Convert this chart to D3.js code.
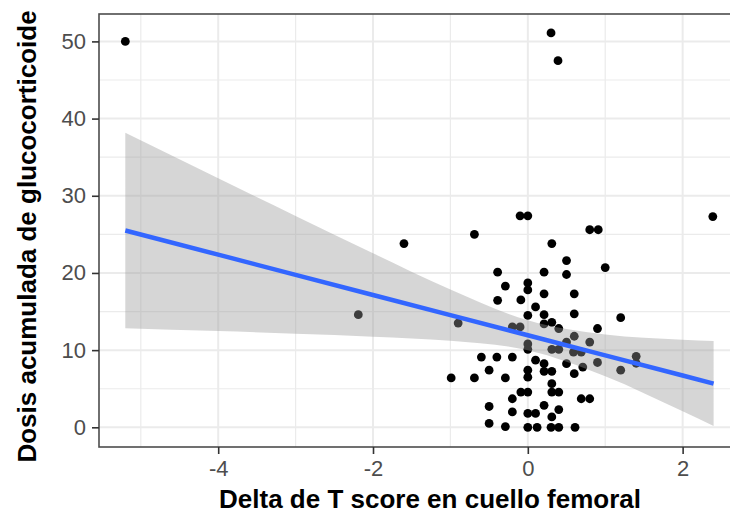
<!DOCTYPE html>
<html>
<head>
<meta charset="utf-8">
<script src="https://cdn.jsdelivr.net/npm/d3@7"></script>
<style>
  body { margin: 0; background: #fff; }
  svg { display: block; }
</style>
</head>
<body>
<svg width="730" height="516"></svg>
<script>
// Data
const deltaT = [-5.2, 0.3, 0.39, 2.39, -1.6, -2.19,
  -0.1, 0.0, -0.69, 0.8, 0.91, 0.31, 0.5, 1.0, -0.39, 0.21, 0.5, 0.0, -0.29, 0.0,
  0.6, 0.21, -0.39, -0.09, 0.1, 1.2, 0.0, 0.21, 0.6, -0.9, 0.21, 0.31, -0.2, -0.1,
  0.4, 0.9, 0.6, 0.0, 0.5, 0.8, 0.31, 0.4, 0.59, 0.69, 1.4, 1.4, -0.6, -0.4, -0.2,
  0.0, 0.1, 0.21, 0.5, 0.9, 0.71, -0.5, 0.0, 0.21, 0.31, 0.6, 1.2, -0.99, -0.69,
  -0.29, 0.0, 0.31, -0.09, 0.0, 0.31, 0.4, -0.2, 0.69, 0.8, -0.5, 0.21, 0.4, -0.2,
  0.0, 0.1, 0.31, -0.5, -0.29, 0.0, 0.12, 0.3, 0.4, 0.61];
const dosis = [50, 51.1, 47.5, 27.3, 23.8, 14.6,
  27.4, 27.4, 25.0, 25.6, 25.6, 23.8, 21.6, 20.7, 20.1, 20.1, 19.8, 18.7, 18.3, 17.8,
  17.3, 17.3, 16.45, 16.5, 15.6, 14.2, 14.5, 14.6, 14.7, 13.5, 13.4, 13.6, 13.0, 13.0,
  12.8, 12.8, 11.8, 10.8, 11.05, 11.05, 10.1, 10.1, 9.75, 9.75, 9.2, 8.3, 9.1, 9.1, 9.1,
  10.1, 8.7, 8.25, 8.25, 8.4, 7.8, 7.4, 7.4, 7.25, 7.25, 6.95, 7.4, 6.4, 6.4,
  6.4, 6.5, 5.65, 4.57, 4.57, 4.57, 4.57, 3.7, 3.7, 3.7, 2.7, 2.85, 2.3, 2.0,
  1.8, 1.8, 1.35, 0.5, 0.1, 0.0, 0.0, 0.0, 0.0, 0.0];

// linear fit and its confidence band
const fitX = [-5.2, -4, -3, -2, -1, 0, 1, 2, 2.4];
const fitY = [25.5, 22.37, 19.76, 17.15, 14.54, 11.93, 9.32, 6.71, 5.67];
const fitLo = [12.85, 12.47, 12.13, 11.75, 11.22, 10.0, 6.63, 2.07, 0.17];
const fitHi = [38.15, 32.27, 27.39, 22.55, 17.86, 13.86, 12.01, 11.35, 11.17];

const xMajor = [-4, -2, 0, 2];
const xMinor = [-5, -3, -1, 1];
const yMajor = [0, 10, 20, 30, 40, 50];
const yMinor = [5, 15, 25, 35, 45];

const xTitle = "Delta de T score en cuello femoral";
const yTitle = "Dosis acumulada de glucocorticoide";

const FONT = "Liberation Sans, Arial, Helvetica, sans-serif";
const GRID = "#EBEBEB";

var svg = d3.select("svg");

var x = d3.scaleLinear().domain([-5.54, 2.78]).range([99, 743]);
var y = d3.scaleLinear().domain([-2.55, 53.55]).range([447, 14]);

var panel = svg.append("g").attr("id", "panel");

// grid
panel.selectAll(".xminor").data(xMinor).enter().append("line")
  .attr("x1", d => x(d)).attr("x2", d => x(d))
  .attr("y1", y.range()[0]).attr("y2", y.range()[1])
  .attr("stroke", GRID).attr("stroke-width", 1.2);
panel.selectAll(".yminor").data(yMinor).enter().append("line")
  .attr("y1", d => y(d)).attr("y2", d => y(d))
  .attr("x1", x.range()[0]).attr("x2", x.range()[1])
  .attr("stroke", GRID).attr("stroke-width", 1.2);
panel.selectAll(".xmajor").data(xMajor).enter().append("line")
  .attr("x1", d => x(d)).attr("x2", d => x(d))
  .attr("y1", y.range()[0]).attr("y2", y.range()[1])
  .attr("stroke", GRID).attr("stroke-width", 2);
panel.selectAll(".ymajor").data(yMajor).enter().append("line")
  .attr("y1", d => y(d)).attr("y2", d => y(d))
  .attr("x1", x.range()[0]).attr("x2", x.range()[1])
  .attr("stroke", GRID).attr("stroke-width", 2);

// points
panel.selectAll("circle").data(deltaT).enter().append("circle")
  .attr("cx", d => x(d))
  .attr("cy", (d, i) => y(dosis[i]))
  .attr("r", 4.4)
  .attr("fill", "#000");

// confidence band
var band = d3.area()
  .x(d => x(fitX[d]))
  .y0(d => y(fitLo[d]))
  .y1(d => y(fitHi[d]))
  .curve(d3.curveMonotoneX);
panel.append("path")
  .datum(d3.range(fitX.length))
  .attr("d", band)
  .attr("fill", "#999999")
  .attr("fill-opacity", 0.4);

// fit line
var line = d3.line()
  .x(d => x(fitX[d]))
  .y(d => y(fitY[d]));
panel.append("path")
  .datum(d3.range(fitX.length))
  .attr("d", line)
  .attr("fill", "none")
  .attr("stroke", "#3366FF")
  .attr("stroke-width", 4.5);

// panel border
panel.append("rect")
  .attr("x", x.range()[0]).attr("y", y.range()[1])
  .attr("width", x.range()[1] - x.range()[0])
  .attr("height", y.range()[0] - y.range()[1])
  .attr("fill", "none")
  .attr("stroke", "#4D4D4D")
  .attr("stroke-width", 1.6);

// axes
var xAxis = svg.append("g")
  .attr("transform", `translate(0,${y.range()[0]})`)
  .call(d3.axisBottom(x).tickValues(xMajor).tickSize(7).tickPadding(6)
    .tickFormat(d => d < 0 ? "-" + Math.abs(d) : d));
var yAxis = svg.append("g")
  .attr("transform", `translate(${x.range()[0]},0)`)
  .call(d3.axisLeft(y).tickValues(yMajor).tickSize(7).tickPadding(6));

[xAxis, yAxis].forEach(function (g) {
  g.select(".domain").remove();
  g.selectAll(".tick line").attr("stroke", "#333").attr("stroke-width", 1.6);
  g.selectAll(".tick text")
    .attr("fill", "#4D4D4D")
    .style("font-family", FONT)
    .style("font-size", "22px");
});

// titles
svg.append("text")
  .attr("x", (x.range()[0] + 761) / 2 - 0)
  .attr("x", 430)
  .attr("y", 508)
  .attr("text-anchor", "middle")
  .style("font-family", FONT)
  .style("font-size", "26px")
  .style("font-weight", "bold")
  .attr("fill", "#000")
  .text(xTitle);

svg.append("text")
  .attr("transform", `translate(36,${(y.range()[0] + y.range()[1]) / 2 + 6}) rotate(-90)`)
  .attr("text-anchor", "middle")
  .style("font-family", FONT)
  .style("font-size", "26px")
  .style("font-weight", "bold")
  .attr("fill", "#000")
  .text(yTitle);
</script>
</body>
</html>
